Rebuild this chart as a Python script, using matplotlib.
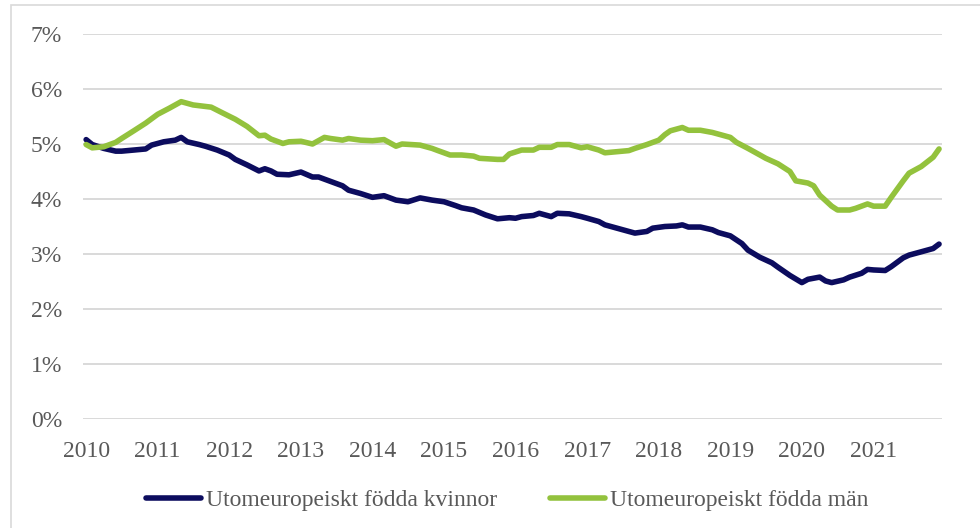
import matplotlib
matplotlib.use("Agg")
import matplotlib.pyplot as plt
from matplotlib.patches import Rectangle
from matplotlib.ticker import FuncFormatter
import pandas as pd

# ---- data -------------------------------------------------------------
women_dates = ["2010-01", "2010-02", "2010-04", "2010-06", "2010-07", "2010-09", "2010-11", "2010-12",
               "2011-02", "2011-04", "2011-05", "2011-06", "2011-08", "2011-09", "2011-11",
               "2012-01", "2012-02", "2012-04", "2012-06", "2012-07", "2012-08", "2012-09", "2012-11",
               "2013-01", "2013-03", "2013-04", "2013-06", "2013-08", "2013-09", "2013-11",
               "2014-01", "2014-03", "2014-05", "2014-07", "2014-09", "2014-11",
               "2015-01", "2015-03", "2015-04", "2015-06", "2015-08", "2015-10", "2015-12",
               "2016-01", "2016-02", "2016-04", "2016-05", "2016-07", "2016-08", "2016-10", "2016-12",
               "2017-01", "2017-03", "2017-04", "2017-06", "2017-08", "2017-09", "2017-11", "2017-12",
               "2018-02", "2018-04", "2018-05", "2018-06", "2018-08", "2018-10", "2018-11",
               "2019-01", "2019-03", "2019-04", "2019-06", "2019-08", "2019-09", "2019-11",
               "2020-01", "2020-02", "2020-04", "2020-05", "2020-06", "2020-08", "2020-09", "2020-11", "2020-12",
               "2021-01", "2021-03", "2021-04", "2021-06", "2021-07", "2021-09", "2021-11", "2021-12"]
women_values = [5.08, 4.99, 4.92, 4.87, 4.87, 4.89, 4.91, 4.98,
                5.04, 5.07, 5.12, 5.04, 4.99, 4.96, 4.89,
                4.80, 4.72, 4.62, 4.51, 4.55, 4.51, 4.45, 4.44,
                4.49, 4.40, 4.40, 4.32, 4.24, 4.16, 4.10,
                4.03, 4.06, 3.98, 3.95, 4.02, 3.98,
                3.95, 3.88, 3.84, 3.80, 3.71, 3.64, 3.66,
                3.65, 3.68, 3.70, 3.74, 3.68, 3.74, 3.73, 3.68,
                3.65, 3.59, 3.53, 3.47, 3.41, 3.38, 3.41, 3.47,
                3.50, 3.51, 3.53, 3.49, 3.49, 3.44, 3.39,
                3.33, 3.19, 3.07, 2.94, 2.84, 2.76, 2.61,
                2.48, 2.54, 2.58, 2.51, 2.48, 2.53, 2.58, 2.65, 2.72,
                2.71, 2.70, 2.77, 2.93, 2.98, 3.04, 3.10, 3.18]

men_dates = ["2010-01", "2010-02", "2010-04", "2010-06", "2010-07", "2010-09", "2010-11",
             "2011-01", "2011-03", "2011-05", "2011-07", "2011-10", "2011-12",
             "2012-02", "2012-04", "2012-06", "2012-07", "2012-08", "2012-10", "2012-11",
             "2013-01", "2013-03", "2013-05", "2013-06", "2013-08", "2013-09", "2013-11",
             "2014-01", "2014-03", "2014-05", "2014-06", "2014-09", "2014-11", "2014-12",
             "2015-02", "2015-04", "2015-06", "2015-07", "2015-10", "2015-11", "2015-12",
             "2016-02", "2016-04", "2016-05", "2016-07", "2016-08", "2016-10", "2016-12",
             "2017-01", "2017-03", "2017-04", "2017-06", "2017-08", "2017-09", "2017-11",
             "2018-01", "2018-02", "2018-03", "2018-05", "2018-06", "2018-08", "2018-10", "2018-11",
             "2019-01", "2019-02", "2019-04", "2019-06", "2019-07", "2019-09", "2019-11", "2019-12",
             "2020-02", "2020-03", "2020-04", "2020-06", "2020-07", "2020-09", "2020-10", "2020-12",
             "2021-01", "2021-03", "2021-04", "2021-06", "2021-07", "2021-09", "2021-11", "2021-12"]
men_values = [4.99, 4.93, 4.95, 5.03, 5.10, 5.24, 5.38,
              5.54, 5.65, 5.77, 5.71, 5.67, 5.56,
              5.45, 5.32, 5.15, 5.16, 5.09, 5.01, 5.04,
              5.05, 5.00, 5.12, 5.10, 5.07, 5.10, 5.07,
              5.06, 5.08, 4.96, 5.00, 4.98, 4.92, 4.88,
              4.80, 4.80, 4.78, 4.74, 4.72, 4.72, 4.82,
              4.89, 4.89, 4.94, 4.94, 4.99, 4.99, 4.93,
              4.95, 4.89, 4.84, 4.86, 4.88, 4.92, 4.99,
              5.07, 5.17, 5.24, 5.30, 5.25, 5.25, 5.21, 5.18,
              5.12, 5.03, 4.92, 4.80, 4.74, 4.64, 4.50, 4.33,
              4.29, 4.24, 4.07, 3.87, 3.80, 3.80, 3.83, 3.91,
              3.87, 3.87, 4.03, 4.33, 4.47, 4.59, 4.76, 4.91]

series_labels = ["Utomeuropeiskt födda kvinnor", "Utomeuropeiskt födda män"]
y_ticks = [0, 1, 2, 3, 4, 5, 6, 7]
x_years = list(range(2010, 2022))

# ---- figure -----------------------------------------------------------
plt.rcParams["font.family"] = ["Liberation Serif", "DejaVu Serif"]
TXT = "#595959"
GRID = "#d9d9d9"

fig = plt.figure(figsize=(9.8, 5.28), dpi=100)
fig.patches.append(Rectangle((11 / 980, -0.05), 1.1, 1.05 - 5 / 528,
                             transform=fig.transFigure, fill=False,
                             edgecolor=GRID, linewidth=1.2, zorder=0))
ax = fig.add_axes([83 / 980, 1 - 419 / 528, (942 - 83) / 980, (419 - 34) / 528])

wd = pd.to_datetime(women_dates, format="%Y-%m")
md = pd.to_datetime(men_dates, format="%Y-%m")
ax.plot(wd, women_values, color="#0c0c5e", lw=4.0, solid_capstyle="round",
        solid_joinstyle="round", label=series_labels[0], zorder=3)
ax.plot(md, men_values, color="#93c23d", lw=4.0, solid_capstyle="round",
        solid_joinstyle="round", label=series_labels[1], zorder=3)

ax.set_ylim(0, 7)
ax.set_yticks(y_ticks)
ax.yaxis.set_major_formatter(FuncFormatter(lambda v, p: f"{int(round(v))}%"))
ax.set_xlim(pd.Timestamp("2009-12-16"), pd.Timestamp("2021-12-16"))
ax.set_xticks([pd.Timestamp(f"{y}-01-01") for y in x_years])
ax.set_xticklabels([str(y) for y in x_years])

ax.grid(axis="y", color=GRID, lw=1.4, zorder=0)
ax.grid(axis="x", visible=False)
for s in ax.spines.values():
    s.set_visible(False)
ax.tick_params(axis="both", length=0, colors=TXT, labelsize=17)
ax.tick_params(axis="y", pad=15)
ax.tick_params(axis="x", pad=16)

leg = ax.legend(loc="center", bbox_to_anchor=(0.5 - 5 / 859, -(500 - 419) / 385),
                ncol=2, frameon=False, fontsize=17, handlelength=2.33,
                handletextpad=0.2, columnspacing=2.25)
for t in leg.get_texts():
    t.set_color(TXT)
for h in leg.get_lines():
    h.set_solid_capstyle("round")

fig.savefig("out.png", dpi=100)
